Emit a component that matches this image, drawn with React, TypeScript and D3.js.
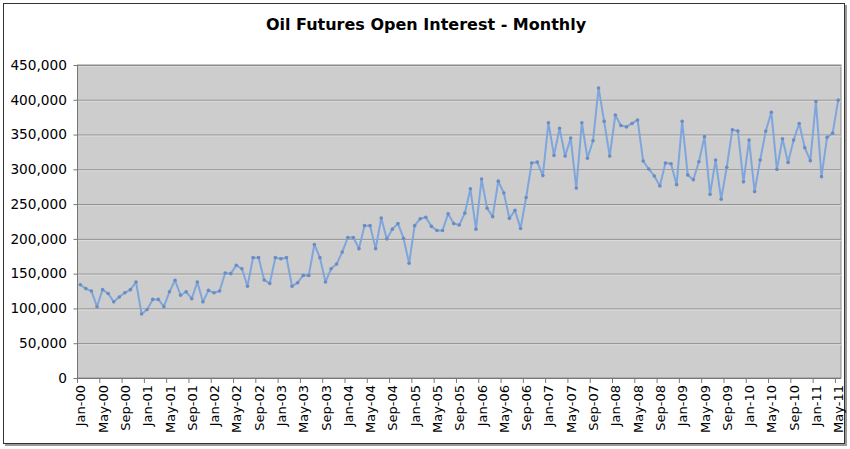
import React from 'react';
import * as d3 from 'd3';

const monthNames = ['Jan', 'Feb', 'Mar', 'Apr', 'May', 'Jun', 'Jul', 'Aug', 'Sep', 'Oct', 'Nov', 'Dec'];
const years = ['00', '01', '02', '03', '04', '05', '06', '07', '08', '09', '10', '11'];
const categories: string[] = [];
years.forEach((y) => monthNames.forEach((m) => categories.push(`${m}-${y}`)));
categories.splice(137);

const openInterest = [
  134000, 128500, 125000, 102500, 127000, 121500, 109500, 116500, 122500, 127000, 138000, 92000,
  98500, 113000, 113000, 102500, 124000, 140500, 119000, 124000, 114000, 138000, 109500, 126000,
  122500, 125000, 151000, 150000, 162000, 157000, 132000, 173000, 173000, 141000, 136000, 173000,
  171500, 173000, 132000, 137000, 147500, 147500, 192000, 173000, 138000, 157000, 164000, 181000,
  202000, 202000, 186000, 219000, 219000, 186000, 230000, 200000, 214000, 222000, 201000, 165000,
  219000, 229000, 231000, 218000, 212000, 212000, 236000, 222000, 220000, 237000, 272000, 214000,
  286000, 244000, 232000, 283000, 266000, 229500, 241000, 215000, 259500, 309000, 310500, 291000,
  367000, 320000, 359000, 319000, 345000, 273000, 367000, 316000, 341000, 417000, 369000, 319000,
  378000, 363000, 361000, 366000, 371000, 312000, 300500, 290500, 276000, 309000, 308000, 278000,
  369000, 292000, 285000, 311000, 347000, 264000, 313500, 257000, 303000, 357000, 355000, 282000,
  342000, 268000, 313500, 355000, 382000, 300000, 344000, 310000, 342000, 366000, 331000, 312500,
  397500, 289500, 346000, 352000, 399500,
];

const yTicks = [0, 50000, 100000, 150000, 200000, 250000, 300000, 350000, 400000, 450000];
const tickLabels = categories.filter((_, i) => i % 4 === 0);
const title = 'Oil Futures Open Interest - Monthly';

const W = 850;
const H = 449;
const left = 77.5;
const right = 841;
const top = 65;
const bottom = 378;
const font = 'Verdana, "DejaVu Sans", sans-serif';

export default function App() {
  const x = d3.scaleBand<string>().domain(categories).range([left, right]).paddingInner(0).paddingOuter(0);
  const y = d3.scaleLinear().domain([0, 450000]).range([bottom, top]);
  const cx = (c: string) => (x(c) as number) + x.bandwidth() / 2;
  const line = d3
    .line<number>()
    .x((_, i) => cx(categories[i]))
    .y((d) => y(d));
  const fmt = d3.format(',');

  return (
    <svg width={W} height={H} style={{ position: 'absolute', left: 0, top: 0 }} fontFamily={font}>
      <rect x={0} y={0} width={W} height={H} fill="#fff" />
      {/* outer border with shadow */}
      <rect x={5} y={5} width={842} height={441} fill="#9a9a9a" />
      <rect x={3.5} y={3.5} width={841} height={440} fill="#fff" stroke="#333" strokeWidth={1} />
      <text x={426} y={30} textAnchor="middle" fontSize={16} fontWeight="bold" fill="#000">
        {title}
      </text>
      <rect x={left} y={top} width={right - left} height={bottom - top} fill="#cdcdcd" stroke="#8a8a8a" />
      {yTicks.map((t) => (
        <g key={t}>
          {t > 0 && (
            <>
              <line x1={left} x2={right} y1={y(t) + 0.5} y2={y(t) + 0.5} fill="none" stroke="#8a8a8a" />
              <line x1={left} x2={right} y1={y(t) + 1.5} y2={y(t) + 1.5} stroke="#dcdcdc" />
            </>
          )}
          <line x1={left - 4} x2={left} y1={y(t) + 0.5} y2={y(t) + 0.5} stroke="#777" />
          <text x={67} y={y(t)} dy="0.35em" textAnchor="end" fontSize={13.7} fill="#000">
            {fmt(t)}
          </text>
        </g>
      ))}
      <line x1={left} x2={left} y1={top} y2={bottom} stroke="#777" />
      <line x1={left} x2={right} y1={bottom + 0.5} y2={bottom + 0.5} stroke="#777" />
      {tickLabels.map((c) => {
        const tx = x(c) as number;
        const lx = cx(c);
        return (
          <g key={c}>
            <line x1={tx} x2={tx} y1={bottom} y2={bottom + 5} stroke="#777" />
            <text
              transform={`translate(${lx + 0.5},385) rotate(-90)`}
              textAnchor="end"
              dy="0.35em"
              fontSize={13}
              fill="#000"
            >
              {c}
            </text>
          </g>
        );
      })}
      <path d={line(openInterest) || ''} fill="none" stroke="#7ea6dc" strokeWidth={2} strokeLinejoin="round" />
      {openInterest.map((v, i) => (
        <circle key={i} cx={cx(categories[i])} cy={y(v)} r={1.8} fill="#6b8cc0" />
      ))}
    </svg>
  );
}
